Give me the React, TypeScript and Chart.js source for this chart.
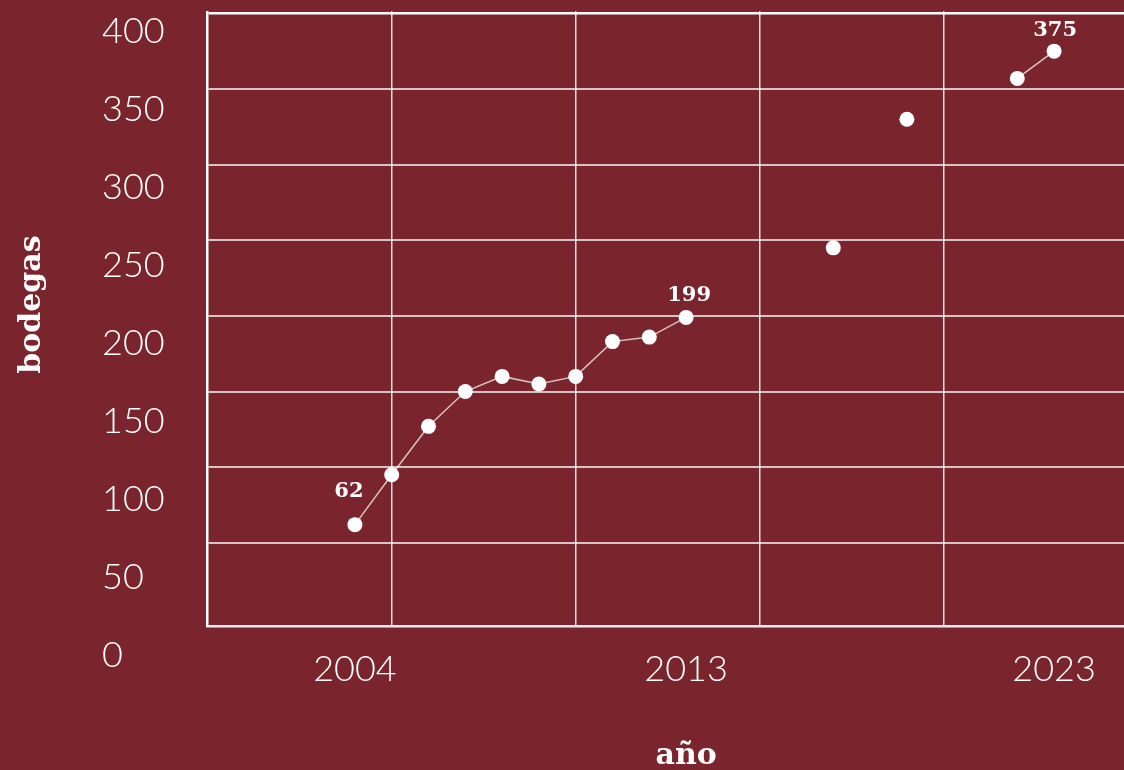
import React, { useEffect, useRef } from "react";
import { Chart, registerables } from "chart.js";

Chart.register(...registerables);

// ---- data ----
const years = [2004, 2005, 2006, 2007, 2008, 2009, 2010, 2011, 2012, 2013, 2014, 2015, 2016, 2017, 2018, 2019, 2020, 2021, 2022, 2023];
const bodegas: (number | null)[] = [62, 95, 127, 150, 160, 155, 160, 183, 186, 199, null, null, null, 245, null, 330, null, null, 357, 375];
const yTickValues = [0, 50, 100, 150, 200, 250, 300, 350, 400];
const xLabelYears = [2004, 2013, 2023];
const xGridYears = [2005, 2010, 2015, 2020];
const labelledYears = [2004, 2013, 2023];
const yTitle = "bodegas";
const xTitle = "año";

// ---- style ----
const BG = "#7a252d";
const TICK_FONT = "Lato";
const SLAB = "'DejaVu Serif', serif";
const LABEL_OFFSETS: Record<number, [number, number]> = {
  2004: [-6, -33],
  2013: [3, -22],
  2023: [1, -21],
};
const CANVAS_W = 1172;
const CANVAS_H = 811;

const valueLabels = {
  id: "valueLabels",
  afterDatasetsDraw(chart: any) {
    const meta = chart.getDatasetMeta(0);
    const ctx = chart.ctx;
    ctx.save();
    ctx.font = `bold 21px ${SLAB}`;
    ctx.fillStyle = "#ffffff";
    ctx.textAlign = "center";
    ctx.textBaseline = "middle";
    labelledYears.forEach((yr) => {
      const i = years.indexOf(yr);
      const el = meta.data[i];
      const v = bodegas[i];
      if (!el || v == null) return;
      const [dx, dy] = LABEL_OFFSETS[yr] || [0, -22];
      ctx.fillText(String(v), el.x + dx, el.y + dy);
    });
    ctx.restore();
  },
};

export default function App() {
  const ref = useRef<HTMLCanvasElement>(null);

  useEffect(() => {
    if (!ref.current) return;
    const chart = new Chart(ref.current, {
      type: "line",
      data: {
        datasets: [
          {
            data: years.map((x, i) => ({ x, y: bodegas[i] })) as any,
            borderColor: "rgba(255,255,255,0.72)",
            borderWidth: 1.5,
            pointRadius: 7.5,
            pointHoverRadius: 7.5,
            pointBackgroundColor: "#ffffff",
            pointBorderWidth: 0,
            spanGaps: false,
            tension: 0,
          },
        ],
      },
      options: {
        animation: false,
        responsive: false,
        devicePixelRatio: 1,
        layout: { padding: { top: 23.1, left: 0, right: 0, bottom: 0 } },
        plugins: { legend: { display: false }, tooltip: { enabled: false } },
        scales: {
          x: {
            type: "linear",
            min: 2000,
            max: 2026,
            afterBuildTicks: (s: any) => {
              s.ticks = [...xGridYears, ...xLabelYears].sort((a, b) => a - b).map((v) => ({ value: v }));
            },
            afterFit: (s: any) => {
              s.height = 145;
            },
            grid: {
              drawTicks: false,
              color: (c: any) => (xGridYears.includes(c.tick?.value) ? "rgba(255,255,255,0.85)" : "transparent"),
              lineWidth: 1.5,
            },
            border: { display: true, color: "rgba(255,255,255,0.9)", width: 2.5 },
            ticks: {
              autoSkip: false,
              maxRotation: 0,
              padding: 22,
              color: "#ffffff",
              font: { family: TICK_FONT, weight: 300 as any, size: 36, lineHeight: 1.2 },
              callback: (v: any) => (xLabelYears.includes(Number(v)) ? String(v) : ""),
            },
            title: {
              display: true,
              text: xTitle,
              color: "#ffffff",
              font: { family: SLAB, weight: "bold", size: 30, lineHeight: 1 },
              padding: { top: 0, bottom: 0 },
            },
          },
          y: {
            type: "linear",
            position: "left",
            weight: 1,
            min: -5,
            max: 420,
            afterBuildTicks: (s: any) => {
              s.ticks = yTickValues.map((v) => ({ value: v }));
            },
            afterFit: (s: any) => {
              s.width = 107.7;
            },
            ticks: { display: false },
            grid: {
              drawTicks: false,
              color: (c: any) =>
                c.tick?.value === 0 ? "transparent" : c.tick?.value === 400 ? "#ffffff" : "rgba(255,255,255,0.72)",
              lineWidth: (c: any) => (c.tick?.value === 400 ? 2.5 : 2),
            },
            border: { display: true, color: "#ffffff", width: 2.5 },
          },
          yl: {
            type: "linear",
            position: "left",
            weight: 2,
            min: 0,
            max: 412.4,
            afterBuildTicks: (s: any) => {
              s.ticks = yTickValues.map((v) => ({ value: v }));
            },
            afterFit: (s: any) => {
              s.width = 100;
            },
            grid: { display: false, drawTicks: false },
            border: { display: false },
            ticks: {
              mirror: true,
              crossAlign: "near",
              padding: 2,
              labelOffset: 29,
              color: "#ffffff",
              font: { family: TICK_FONT, weight: 300 as any, size: 36, lineHeight: 1 },
              callback: (v: any) => String(v),
            },
            title: {
              display: true,
              text: yTitle,
              color: "#ffffff",
              font: { family: SLAB, weight: "bold", size: 30, lineHeight: 1 },
              padding: { top: 17, bottom: 0 },
            },
          },
        } as any,
      },
      plugins: [valueLabels],
    });
    return () => chart.destroy();
  }, []);

  return (
    <div style={{ position: "fixed", left: 0, top: 0, width: 1124, height: 770, background: BG, overflow: "hidden" }}>
      <div style={{ position: "absolute", left: 0, top: 11, width: 1124, height: 759, overflow: "hidden" }}>
        <div style={{ position: "absolute", left: 0, top: -51, width: CANVAS_W, height: CANVAS_H }}>
          <canvas
            ref={ref}
            width={CANVAS_W}
            height={CANVAS_H}
            style={{ width: CANVAS_W, height: CANVAS_H, display: "block" }}
          />
        </div>
      </div>
    </div>
  );
}
